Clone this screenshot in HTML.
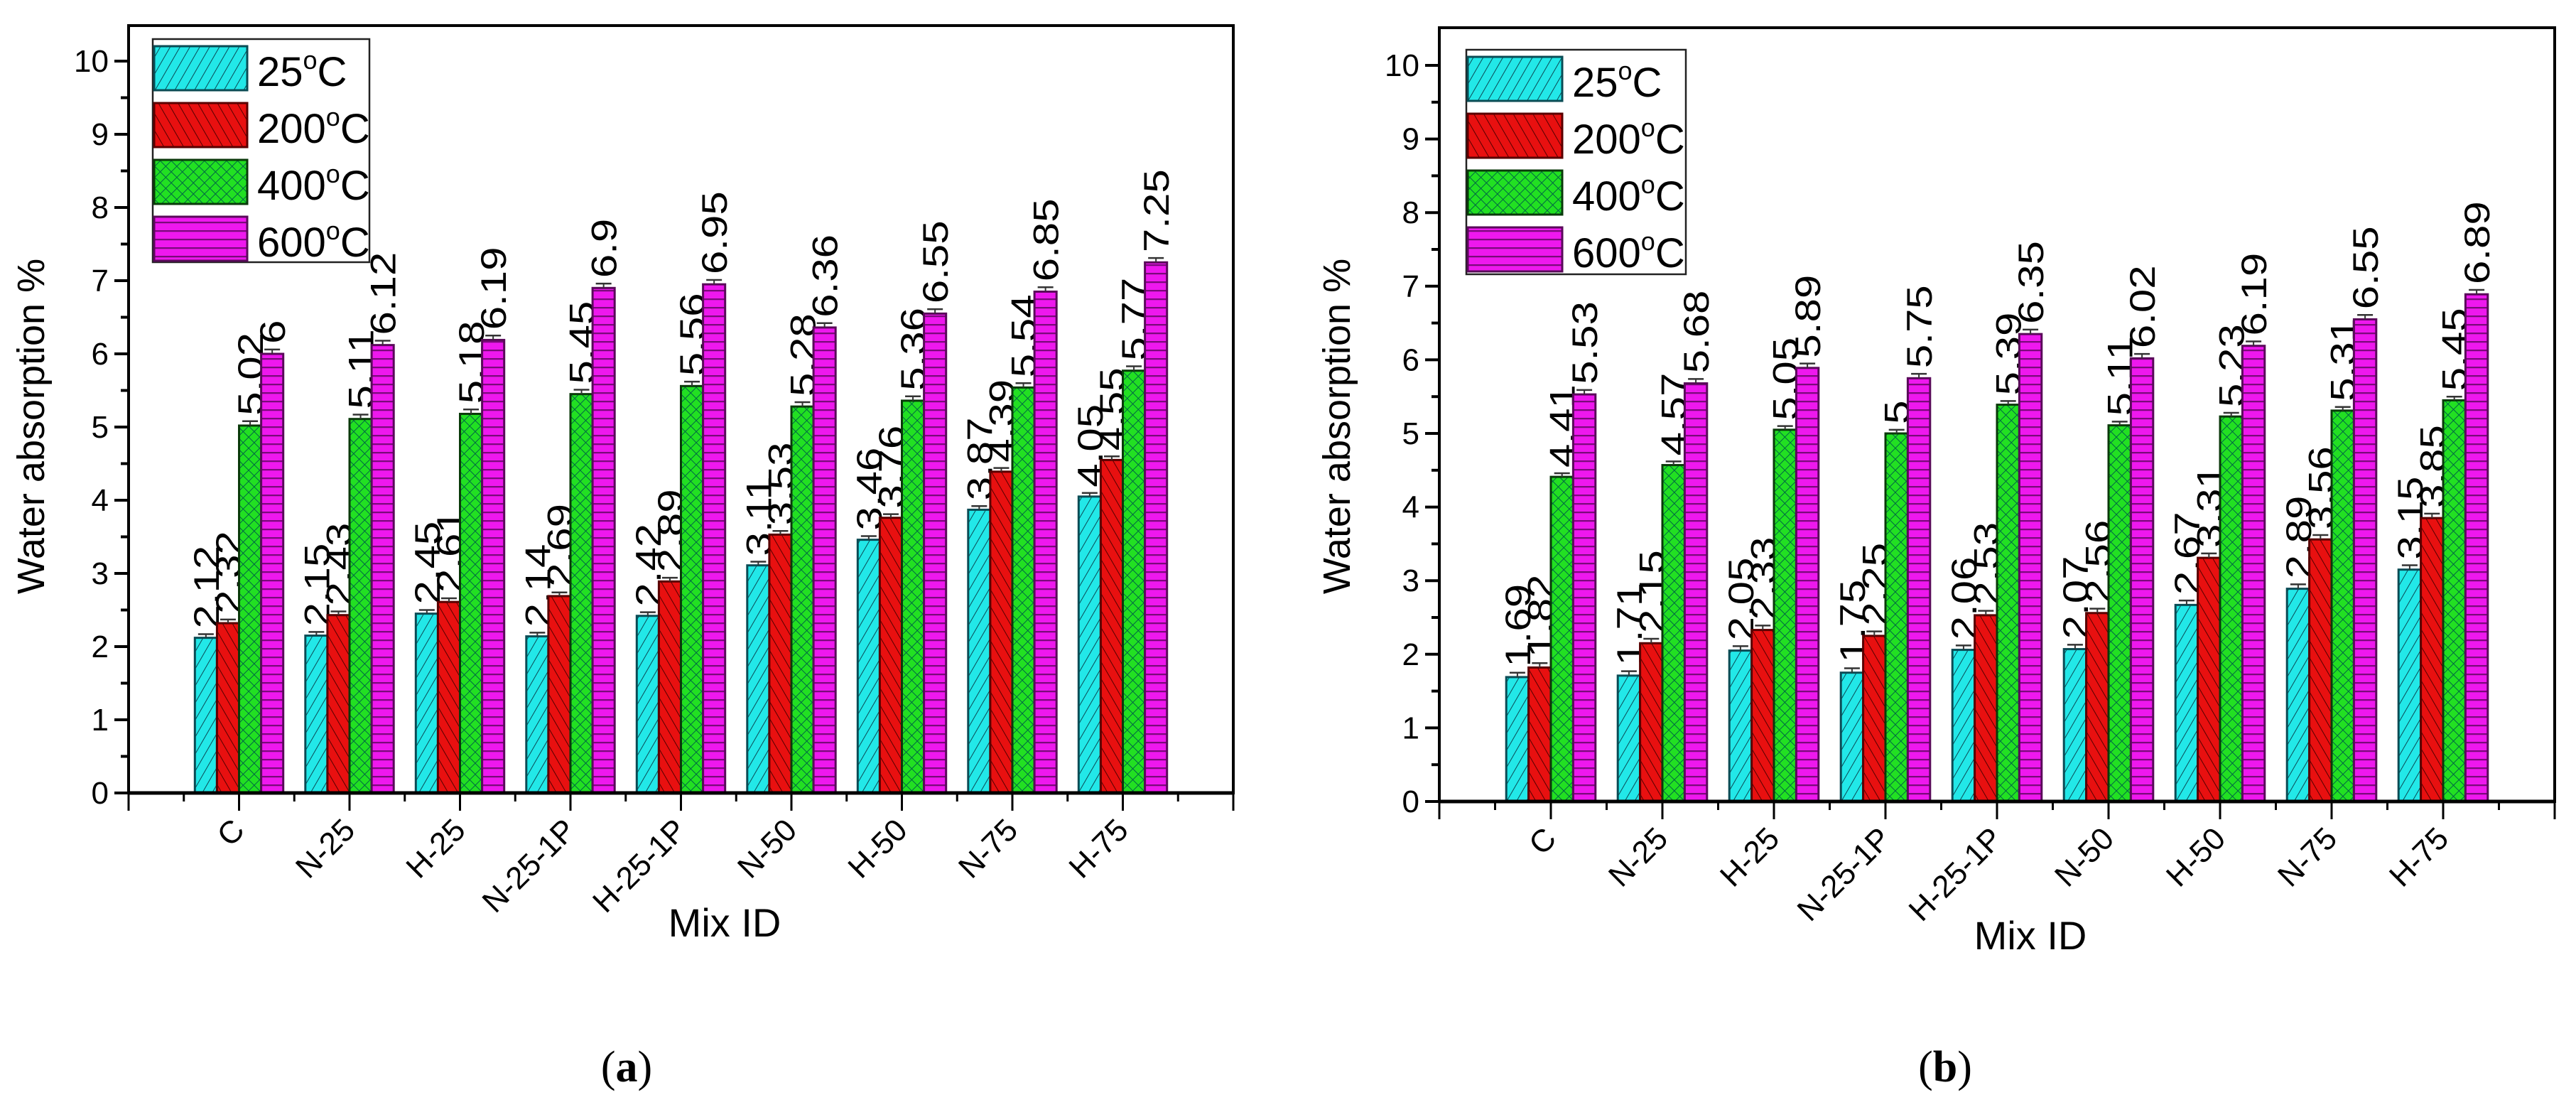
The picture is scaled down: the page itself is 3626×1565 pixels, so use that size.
<!DOCTYPE html>
<html><head><meta charset="utf-8"><style>
html,body{margin:0;padding:0;background:#fff;}
svg{display:block;font-family:"Liberation Sans",Arial,sans-serif;}
</style></head><body>
<svg id="fig" width="3626" height="1565" viewBox="0 0 3626 1565" xmlns="http://www.w3.org/2000/svg">
<defs>
<pattern id="pCyan" patternUnits="userSpaceOnUse" width="12" height="12" patternTransform="rotate(30)"><rect width="12" height="12" fill="#22e8e8"/><line x1="0" y1="0" x2="0" y2="12" stroke="#0a4a55" stroke-width="2"/></pattern>
<pattern id="pRed" patternUnits="userSpaceOnUse" width="12" height="12" patternTransform="rotate(-30)"><rect width="12" height="12" fill="#e81010"/><line x1="0" y1="0" x2="0" y2="12" stroke="#500" stroke-width="2"/></pattern>
<pattern id="pGreen" patternUnits="userSpaceOnUse" width="11" height="11" patternTransform="rotate(45)"><rect width="11" height="11" fill="#22e022"/><line x1="0" y1="0" x2="0" y2="11" stroke="#064" stroke-width="2"/><line x1="0" y1="0" x2="11" y2="0" stroke="#064" stroke-width="2"/></pattern>
<pattern id="pMag" patternUnits="userSpaceOnUse" width="10" height="12"><rect width="10" height="12" fill="#ee18ee"/><line x1="0" y1="1" x2="10" y2="1" stroke="#7a0a7a" stroke-width="2.5"/></pattern>
</defs>
</svg>
<script>
const categories = ["C","N-25","H-25","N-25-1P","H-25-1P","N-50","H-50","N-75","H-75"];
const seriesNames = ["25","200","400","600"];
const a25  = [2.12,2.15,2.45,2.14,2.42,3.11,3.46,3.87,4.05];
const a200 = [2.32,2.43,2.61,2.69,2.89,3.53,3.76,4.39,4.55];
const a400 = [5.02,5.11,5.18,5.45,5.56,5.28,5.36,5.54,5.77];
const a600 = [6,6.12,6.19,6.9,6.95,6.36,6.55,6.85,7.25];
const b25  = [1.69,1.71,2.05,1.75,2.06,2.07,2.67,2.89,3.15];
const b200 = [1.82,2.15,2.33,2.25,2.53,2.56,3.31,3.56,3.85];
const b400 = [4.41,4.57,5.05,5,5.39,5.11,5.23,5.31,5.45];
const b600 = [5.53,5.68,5.89,5.75,6.35,6.02,6.19,6.55,6.89];
const errA = [0.05,0.05,0.06,0.06];
const errB = [0.06,0.06,0.05,0.06];
const yTicks = [0,1,2,3,4,5,6,7,8,9,10];

const NS="http://www.w3.org/2000/svg";
const svg=document.getElementById('fig');
function mk(tag,attrs,parent,txt){const e=document.createElementNS(NS,tag);for(const k in attrs)e.setAttribute(k,attrs[k]);if(txt!==undefined)e.textContent=txt;(parent||svg).appendChild(e);return e;}
const fills=["url(#pCyan)","url(#pRed)","url(#pGreen)","url(#pMag)"];
const strokes=["#0b4c55","#5a0000","#0a3a0a","#5a0a5a"];

function panel(cfg){
  const g=mk('g',{});
  
  
  const X=v=>cfg.x0+v*cfg.xu, Y=v=>cfg.y0-v*cfg.yu;
  const fr=mk('rect',{x:cfg.x0,y:cfg.top,width:X(10)-cfg.x0,height:cfg.y0-cfg.top,fill:'none',stroke:'#000','stroke-width':4},g);
  
  for(let i=0;i<=20;i++){const v=i/2;const major=i%2===0;
    mk('line',{x1:cfg.x0,x2:cfg.x0-(major?20:11),y1:Y(v),y2:Y(v),stroke:'#000','stroke-width':4},g);}
  yTicks.forEach(v=>{const t=mk('text',{x:cfg.x0-28,y:Y(v)+15,'text-anchor':'end','font-size':44},g,String(v));
    });
  for(let i=0;i<=20;i++){const v=i/2;const major=i%2===0;
    mk('line',{x1:X(v),x2:X(v),y1:cfg.y0,y2:cfg.y0+(major?25:12),stroke:'#000','stroke-width':3},g);}
  categories.forEach((c,i)=>{const x=X(i+1)+10,y=cfg.y0+55;
    const t=mk('text',{x:x,y:y,'text-anchor':'end','font-size':44,transform:`rotate(-45 ${x} ${y})`},g,c);
    });
  const bw=0.2*cfg.xu;
  cfg.series.forEach((arr,s)=>{
    arr.forEach((v,i)=>{
      const cx=X(i+1)+(s-1.5)*bw;
      const r=mk('rect',{x:cx-bw/2,y:Y(v),width:bw,height:cfg.y0-Y(v),fill:fills[s],stroke:strokes[s],'stroke-width':3},g);
      
      
      const e=cfg.err[s];
      mk('line',{x1:cx,x2:cx,y1:Y(v+e),y2:Y(v),stroke:'#333','stroke-width':2},g);
      mk('line',{x1:cx-11,x2:cx+11,y1:Y(v+e),y2:Y(v+e),stroke:'#333','stroke-width':2.5},g);
      const lx=cx+18, ly=Y(v+e)-8;
      const t=mk('text',{x:0,y:0,'font-size':50,transform:`translate(${lx} ${ly}) rotate(-90) scale(1.2 1)`},g,String(v));
      
    });
  });
  mk('line',{x1:cfg.x0,x2:X(10),y1:cfg.y0,y2:cfg.y0,stroke:'#000','stroke-width':5},g);
  const L=cfg.leg;
  const lb=mk('rect',{x:L.x,y:L.y,width:L.w,height:L.h,fill:'#fff',stroke:'#222','stroke-width':2.5},g);
  
  seriesNames.forEach((n,s)=>{
    const sy=L.y+10+s*L.step;
    const sw=mk('rect',{x:L.x+2,y:sy,width:L.sw,height:L.step-18,fill:fills[s],stroke:strokes[s],'stroke-width':3},g);
    
    const t=mk('text',{x:L.x+L.sw+16,y:sy+L.step-24,'font-size':58},g);
    
    mk('tspan',{},t,n);mk('tspan',{'font-size':36,dy:-24},t,'o');mk('tspan',{dy:24},t,'C');
  });
  const yt=mk('text',{x:cfg.ytx,y:600,'text-anchor':'middle','font-size':54,transform:`rotate(-90 ${cfg.ytx} 600)`},g,'Water absorption %');
  
  const xt=mk('text',{x:cfg.xtx,y:cfg.xty,'text-anchor':'middle','font-size':56},g,'Mix ID');
  
  const cap=mk('text',{x:cfg.capx,y:1522,'text-anchor':'middle','font-size':62,'font-family':'"Liberation Serif",serif'},g);
  
  mk('tspan',{},cap,'(');mk('tspan',{'font-weight':'bold'},cap,cfg.cap);mk('tspan',{},cap,')');
}
panel({name:'panel-a',x0:181,xu:155.5,y0:1116,yu:103,top:36,series:[a25,a200,a400,a600],err:errA,
  leg:{x:215,y:55,w:305,h:314,sw:131,step:80},ytx:62,xtx:1020,xty:1318,capx:882,cap:'a'});
panel({name:'panel-b',x0:2026,xu:157,y0:1128,yu:103.6,top:39,series:[b25,b200,b400,b600],err:errB,
  leg:{x:2064,y:70,w:309,h:316,sw:133,step:80},ytx:1900,xtx:2858,xty:1336,capx:2738,cap:'b'});
</script>
</body></html>
